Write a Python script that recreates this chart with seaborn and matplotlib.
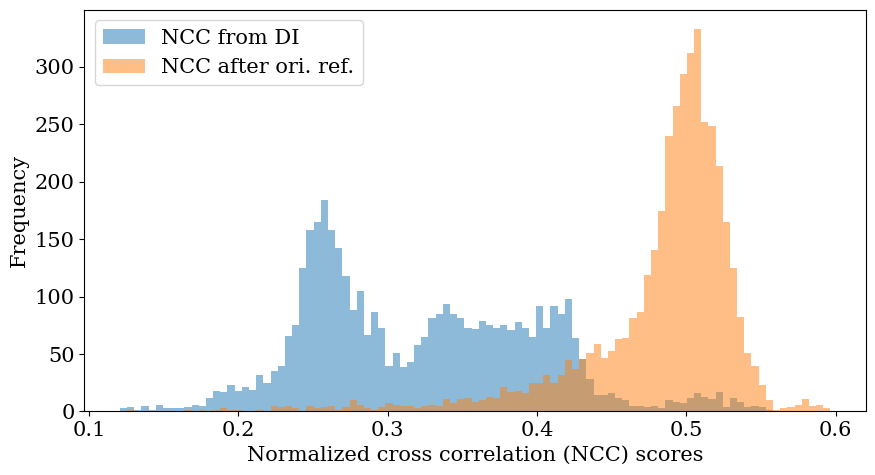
import numpy as np
import pandas as pd
import matplotlib
matplotlib.use("Agg")
import matplotlib.pyplot as plt
import seaborn as sns

# Shared histogram bins (99 equal bins between the min and max score)
bin_lo = 0.1207
bin_hi = 0.5965
n_bins = 99

# Bin counts
ncc_di = [3, 4, 1, 5, 1, 6, 3, 3, 3, 4,
          6, 5, 12, 18, 17, 23, 18, 21, 19, 32,
          25, 35, 40, 66, 75, 125, 158, 165, 184, 158,
          142, 118, 88, 105, 67, 87, 73, 40, 51, 39,
          43, 58, 65, 81, 85, 94, 85, 81, 73, 72,
          79, 75, 73, 75, 71, 78, 73, 65, 92, 73,
          92, 85, 98, 64, 46, 28, 14, 14, 16, 12,
          10, 5, 5, 4, 5, 3, 10, 8, 7, 12,
          16, 13, 11, 17, 4, 12, 8, 4, 5, 4,
          1, 0, 0, 0, 0, 0, 0, 0, 0]

ncc_ref = [0, 1, 0, 0, 0, 0, 0, 0, 0, 1,
           0, 1, 0, 1, 3, 1, 1, 0, 0, 1,
           0, 5, 4, 5, 3, 0, 5, 3, 4, 5,
           1, 4, 10, 6, 3, 1, 4, 7, 6, 5,
           5, 3, 5, 6, 5, 11, 7, 11, 12, 8,
           10, 13, 12, 21, 17, 18, 16, 25, 25, 32,
           25, 32, 45, 37, 46, 51, 59, 47, 53, 63,
           64, 81, 87, 119, 141, 175, 240, 266, 294, 312,
           333, 252, 249, 214, 165, 125, 82, 51, 40, 23,
           10, 1, 3, 4, 6, 11, 5, 6, 3]

labels = ["NCC from DI", "NCC after ori. ref."]
xlabel = "Normalized cross correlation (NCC) scores"
ylabel = "Frequency"

plt.rcParams["font.family"] = ["DejaVu Serif"]
plt.rcParams["font.size"] = 15

edges = np.linspace(bin_lo, bin_hi, n_bins + 1)
centers = (edges[:-1] + edges[1:]) / 2

df = pd.DataFrame({
    "score": np.concatenate([centers, centers]),
    "count": np.concatenate([ncc_di, ncc_ref]),
    "series": [labels[0]] * len(centers) + [labels[1]] * len(centers),
})

fig, ax = plt.subplots(figsize=(8.75, 4.75), dpi=100)
fig.subplots_adjust(left=0.0963, right=0.9897, top=0.979, bottom=0.1337)

colors = ["#1f77b4", "#ff7f0e"]
for lab, col in zip(labels, colors):
    sub = df[df["series"] == lab]
    sns.histplot(data=sub, x="score", weights="count", bins=n_bins,
                 binrange=(bin_lo, bin_hi),
                 color=col, alpha=0.5, linewidth=0, label=lab, ax=ax)

ax.set_xlabel(xlabel)
ax.set_ylabel(ylabel)
ax.set_xticks([0.1, 0.2, 0.3, 0.4, 0.5, 0.6])
ax.legend(loc="upper left")

fig.savefig("out.png", dpi=100)
